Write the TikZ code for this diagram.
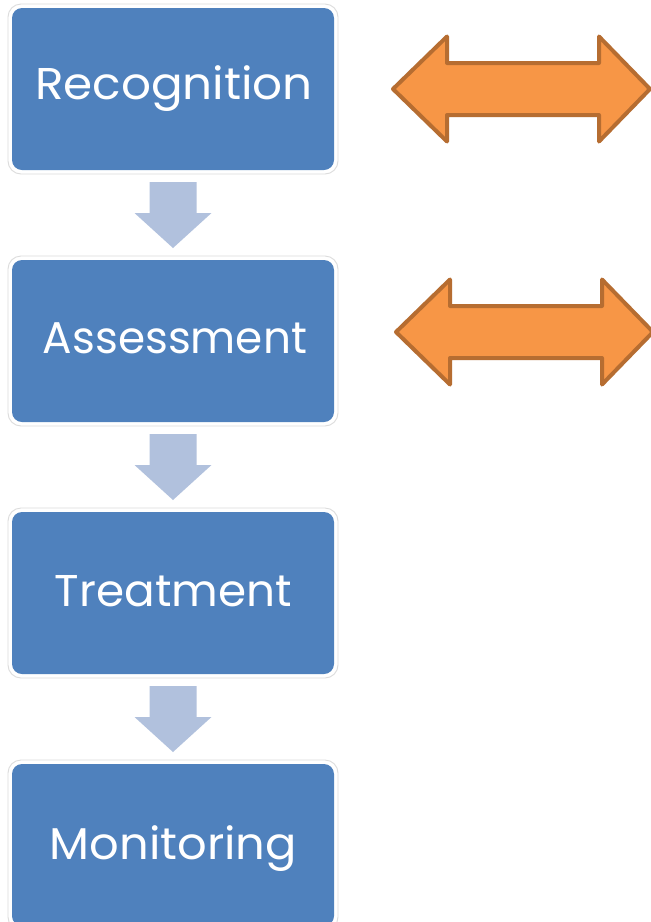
\documentclass[tikz,border=0pt]{standalone}
\usepackage{fontspec}
\setmainfont{Poppins}
\usetikzlibrary{calc,backgrounds}
\definecolor{boxblue}{HTML}{4F81BD}
\definecolor{ringgray}{HTML}{DCDCDC}
\definecolor{flowarrow}{HTML}{B1C1DD}
\definecolor{orfill}{HTML}{F79646}
\definecolor{ordraw}{HTML}{B66D31}
\newcommand{\stagelabel}[2]{\resizebox{#1}{\height}{\fontsize{44.5pt}{48pt}\selectfont #2}}
\begin{document}
\begin{tikzpicture}[x=1pt,y=-1pt,
  stage/.style={rectangle, rounded corners=10pt, fill=boxblue, minimum width=322pt, minimum height=162pt, inner sep=0pt, outer sep=0pt},
  stagetext/.style={text=white, anchor=base, inner sep=0pt},
  ring/.style={draw=ringgray, fill=white, line width=0.9pt, rounded corners=13pt},
  flowarr/.style={fill=flowarrow},
  dblarrow/.style={fill=orfill, draw=ordraw, line width=4pt, line join=round}]
\useasboundingbox (0,0) rectangle (651,922);
% boxes
\node[stage] (b1) at (173,89) {};
\node[stage] (b2) at (173,341) {};
\node[stage] (b3) at (173,593) {};
\node[stage] (b4) at (173,845) {};
% texts
\node[stagetext] (t1) at (174,99) {\stagelabel{278pt}{Recognition}};
\node[stagetext] (t2) at (175,353) {\stagelabel{264pt}{Assessment}};
\node[stagetext] (t3) at (173.5,606) {\stagelabel{237pt}{Treatment}};
\node[stagetext] (t4) at (173.5,859) {\stagelabel{247pt}{Monitoring}};
% rings behind the boxes
\begin{scope}[on background layer]
\fill[white] (0,0) rectangle (651,922);
\foreach \b in {b1,b2,b3,b4}
  \draw[ring] ($(\b.north west)+(-4,-4)$) rectangle ($(\b.south east)+(4,4)$);
\end{scope}
% flow arrows between boxes
\foreach \a/\b/\m in {b1/b2/m1,b2/b3/m2,b3/b4/m3}{
  \coordinate (\m) at ($(\a.south)!0.5!(\b.north)$);
  \fill[flowarr, shift={(\m)}] (-23.5,-33) -- (23.5,-33) -- (23.5,-2) -- (38.5,-2)
     -- (0,33) -- (-38.5,-2) -- (-23.5,-2) -- cycle;
}
% orange double arrows
\coordinate (o1) at (521.5,89);
\coordinate (o2) at (524.5,332);
\foreach \o in {o1,o2}
  \draw[dblarrow, shift={(\o)}] (-128.5,0) -- (-74.5,-52.5) -- (-74.5,-26) -- (77.5,-26)
     -- (77.5,-52.5) -- (128.5,0) -- (77.5,52.5) -- (77.5,26) -- (-74.5,26)
     -- (-74.5,52.5) -- cycle;
\end{tikzpicture}
\end{document}
